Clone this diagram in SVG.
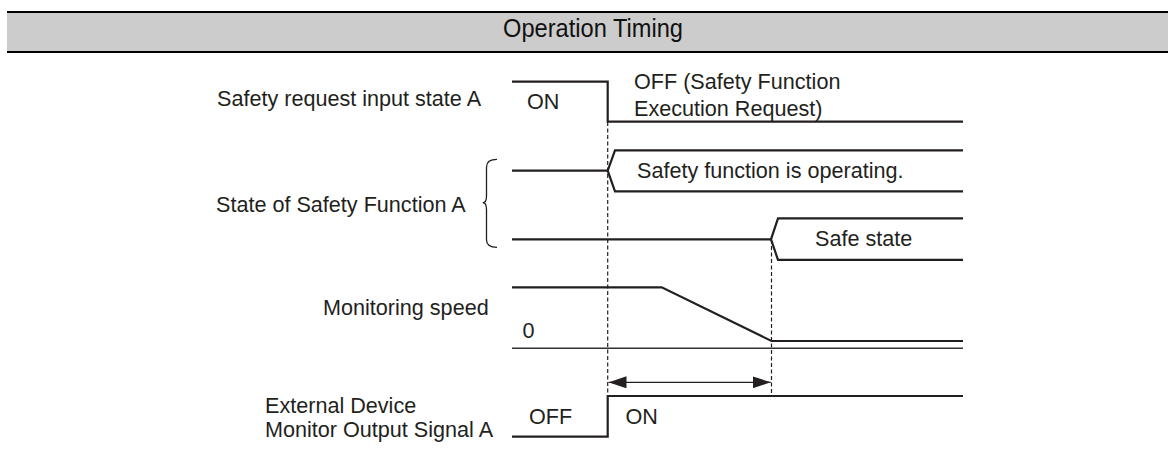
<svg xmlns="http://www.w3.org/2000/svg" width="1168" height="464" viewBox="0 0 1168 464">
<style>
text{font-family:"Liberation Sans",Arial,sans-serif;font-size:21.6px;fill:#231f20}
.sig{fill:none;stroke:#231f20;stroke-width:2.2;stroke-linejoin:miter}
.dash{fill:none;stroke:#231f20;stroke-width:1.2;stroke-dasharray:4 2.5}
.thin{fill:none;stroke:#231f20;stroke-width:1.3}
</style>
<defs>
<marker id="ah" viewBox="0 0 18 12" refX="18" refY="6" markerWidth="18" markerHeight="12" markerUnits="userSpaceOnUse" orient="auto-start-reverse">
<path d="M0,0 L18,6 L0,12 Z" fill="#231f20"/>
</marker>
</defs>
<rect width="1168" height="464" fill="#fff"/>
<g id="header">
<rect x="7" y="13" width="1161" height="38" fill="#cccccc"/>
<rect x="7" y="11" width="1161" height="2" fill="#000"/>
<rect x="7" y="51" width="1161" height="2" fill="#000"/>
<text x="503" y="37" style="font-size:25px;fill:#111" textLength="180" lengthAdjust="spacingAndGlyphs">Operation Timing</text>
</g>
<g id="row-request">
<text x="217" y="106">Safety request input state A</text>
<path class="sig" d="M512,81.7 H607.7 V121.7 H963"/>
<text x="527" y="109.3">ON</text>
<text x="634" y="89.3">OFF (Safety Function</text>
<text x="634" y="116">Execution Request)</text>
</g>
<g id="row-state">
<text x="216" y="211.7">State of Safety Function A</text>
<path class="thin" d="M497,159.3 Q486.5,159.3 486.5,167 L486.5,196 Q486.5,202.7 482.7,202.7 Q486.5,202.7 486.5,209.5 L486.5,240 Q486.5,247.3 497,247.3"/>
<path class="sig" d="M512,170.7 H607.7"/>
<path class="sig" d="M963,150.3 H615 L607.7,170.7 L615,191.3 H963"/>
<text x="637" y="178.3">Safety function is operating.</text>
<path class="sig" d="M512,239.3 H771"/>
<path class="sig" d="M963,218.3 H778 L771,239.3 L778,259.8 H963"/>
<text x="815" y="245.7">Safe state</text>
</g>
<g id="row-speed">
<text x="323" y="315">Monitoring speed</text>
<text x="522.5" y="338.3">0</text>
<path class="sig" d="M512,287.3 H661.7 L771.5,341 H963"/>
<path d="M512,348.3 H963" fill="none" stroke="#333" stroke-width="1.4"/>
</g>
<g id="row-output">
<text x="265" y="412.7">External Device</text>
<text x="265" y="437.3">Monitor Output Signal A</text>
<path class="sig" d="M512,436.7 H607.7 V396 H963"/>
<text x="529" y="423.5">OFF</text>
<text x="625.5" y="423.5">ON</text>
</g>
<g id="connectors">
<path class="dash" d="M607.7,122 V396"/>
<path class="dash" d="M771.5,239.5 V396"/>
<path d="M608.5,382.3 H770.7" fill="none" stroke="#231f20" stroke-width="1.3" marker-start="url(#ah)" marker-end="url(#ah)"/>
</g>
</svg>
